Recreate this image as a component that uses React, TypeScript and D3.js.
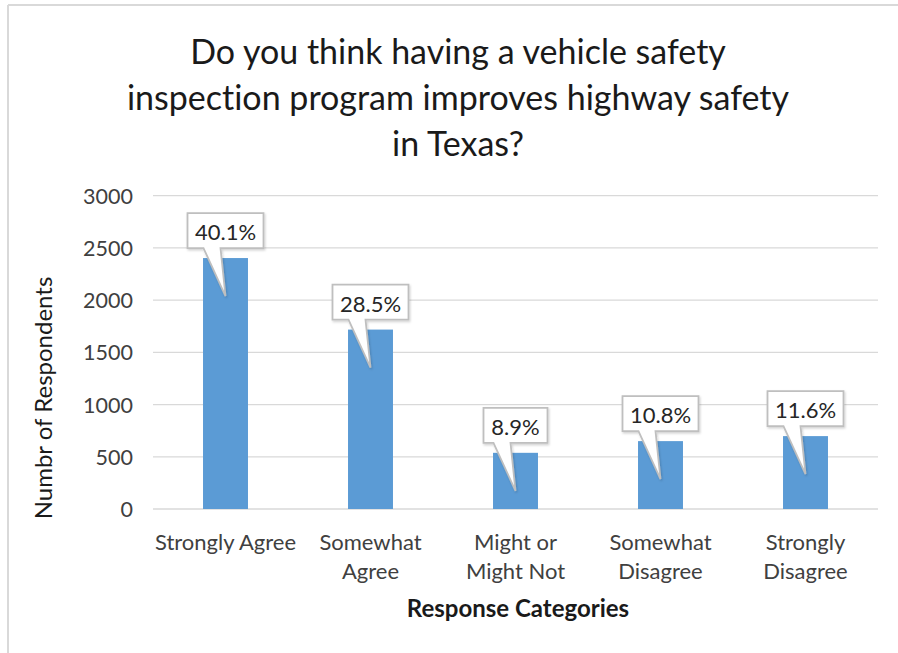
import React from "react";
import * as d3 from "d3";

const categories: string[][] = [
  ["Strongly Agree"],
  ["Somewhat", "Agree"],
  ["Might or", "Might Not"],
  ["Somewhat", "Disagree"],
  ["Strongly", "Disagree"],
];
const respondents: number[] = [2403, 1718, 538, 650, 698];
const percentLabels: string[] = ["40.1%", "28.5%", "8.9%", "10.8%", "11.6%"];
const yTicks: number[] = [0, 500, 1000, 1500, 2000, 2500, 3000];
const titleLines: string[] = [
  "Do you think having a vehicle safety",
  "inspection program improves highway safety",
  "in Texas?",
];

const W = 898;
const H = 653;
const FONT = "Lato, 'Open Sans', sans-serif";

export default function App() {
  const x = d3
    .scaleBand<number>()
    .domain(categories.map((_, i) => i))
    .range([153, 878])
    .paddingInner(0.69)
    .paddingOuter(0.345);
  const y = d3.scaleLinear().domain([0, 3000]).range([509, 195.7]);

  const charW = 12;

  return (
    <svg
      width={W}
      height={H}
      style={{
        position: "absolute",
        left: 0,
        top: 0,
        background: "#fff",
        fontVariantLigatures: "none",
      }}
      fontFamily={FONT}
    >
      <defs>
        <filter id="sh" x="-20%" y="-20%" width="140%" height="160%">
          <feDropShadow dx="1" dy="1.5" stdDeviation="1" floodColor="#000" floodOpacity="0.18" />
        </filter>
      </defs>
      {/* chart border */}
      <line x1={8} y1={5} x2={W} y2={5} stroke="#d9d9d9" strokeWidth={2} />
      <line x1={8} y1={5} x2={8} y2={H} stroke="#d9d9d9" strokeWidth={2} />

      {/* title */}
      {titleLines.map((t, i) => (
        <text
          key={i}
          x={458}
          y={50 + i * 46}
          textAnchor="middle"
          dominantBaseline="central"
          fontSize={34}
          fill="#1a1a1a"
        >
          {t}
        </text>
      ))}

      {/* gridlines */}
      {yTicks.map((t) => (
        <line
          key={t}
          x1={153}
          x2={878}
          y1={y(t)}
          y2={y(t)}
          stroke="#d9d9d9"
          strokeWidth={1.3}
        />
      ))}
      {/* y tick labels */}
      {yTicks.map((t) => (
        <text
          key={"l" + t}
          x={133}
          y={y(t)}
          textAnchor="end"
          dominantBaseline="central"
          fontSize={21.5}
          fill="#404040"
        >
          {t}
        </text>
      ))}

      {/* bars */}
      {respondents.map((v, i) => (
        <rect
          key={i}
          x={x(i)!}
          y={y(v)}
          width={x.bandwidth()}
          height={y(0) - y(v)}
          fill="#5b9bd5"
        />
      ))}

      {/* callouts */}
      {respondents.map((v, i) => {
        const cx = x(i)! + x.bandwidth() / 2;
        const top = y(v);
        const label = percentLabels[i];
        const bw = label.length * charW + 16;
        const bh = 35;
        const bx = cx - bw / 2;
        const bottom = top - 10;
        const by = bottom - bh;
        const tipY = top + 38;
        const t1 = cx - 22;
        const t2 = cx - 5;
        const path = `M${bx},${by} H${bx + bw} V${bottom} H${t2} L${cx},${tipY} L${t1},${bottom} H${bx} Z`;
        return (
          <g key={"c" + i}>
            <path d={path} fill="#fff" stroke="#bfbfbf" strokeWidth={1.8} filter="url(#sh)" />
            <text
              x={cx}
              y={by + bh / 2 + 1}
              textAnchor="middle"
              dominantBaseline="central"
              fontSize={22}
              fill="#262626"
            >
              {label}
            </text>
          </g>
        );
      })}

      {/* category labels */}
      {categories.map((lines, i) => {
        const cx = x(i)! + x.bandwidth() / 2;
        return lines.map((ln, j) => (
          <text
            key={"cat" + i + j}
            x={cx}
            y={541 + j * 29}
            textAnchor="middle"
            dominantBaseline="central"
            fontSize={22}
            fill="#404040"
          >
            {ln}
          </text>
        ));
      })}

      {/* axis titles */}
      <text
        x={518}
        y={607}
        textAnchor="middle"
        dominantBaseline="central"
        fontSize={24}
        fontWeight="bold"
        fill="#1a1a1a"
      >
        Response Categories
      </text>
      <text
        transform={`translate(42,398) rotate(-90)`}
        textAnchor="middle"
        dominantBaseline="central"
        fontSize={24}
        fill="#1a1a1a"
      >
        Numbr of Respondents
      </text>
    </svg>
  );
}
